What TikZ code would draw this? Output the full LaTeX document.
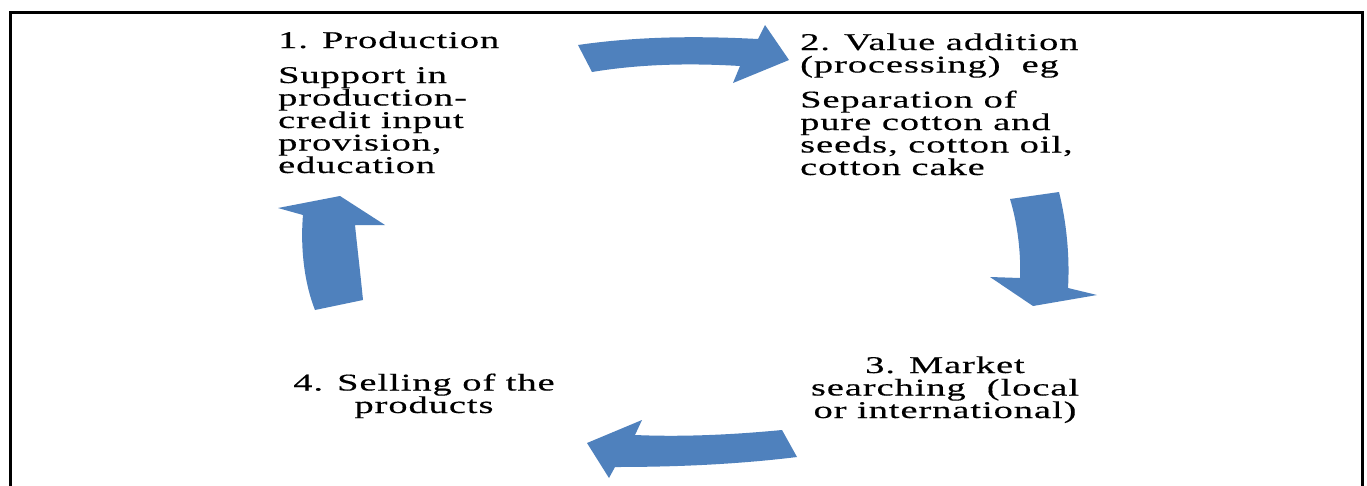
\documentclass[tikz,border=0pt]{standalone}
\usepackage{fontspec}
\setmainfont{Liberation Serif}[FakeStretch=1.6,LetterSpace=4,FakeBold=0.4]
\definecolor{arrowblue}{HTML}{4F81BD}
\tikzset{
  label text/.style={inner sep=0pt, font=\fontsize{24}{22.5}\selectfont, text=black},
  block arrow/.style={fill=arrowblue, draw=none},
  frame line/.style={draw=black, line width=3pt}
}
\begin{document}
\begin{tikzpicture}[x=1pt,y=-1pt]
\useasboundingbox (0,0) rectangle (1367,485);
\fill[white] (0,0) rectangle (1367,485);
\draw[frame line] (10.5,490) -- (10.5,12.5) -- (1362,12.5) -- (1362,490);

\node[label text, anchor=base west, align=left] (n1) at (278,173)
  {1. Production\\[12.5pt]Support in\\production-\\credit input\\provision,\\education};
\node[label text, anchor=base west, align=left] (n2) at (800,175)
  {2. Value addition\\(processing)\ \ eg\\[12.5pt]Separation of\\pure cotton and\\seeds, cotton oil,\\cotton cake};
\node[label text, anchor=base, align=center] (n3) at (945,418)
  {3. Market\\searching\ \ (local\\or international)};
\node[label text, anchor=base, align=center] (n4) at (424,413)
  {4. Selling of the\\products};

% top arrow (1 -> 2)
\path[block arrow] (578,45) .. controls (640,36) and (700,36) .. (758,39)
  -- (765,25) -- (789,60) -- (733,83) -- (740,66)
  .. controls (690,63) and (640,64) .. (592,72) -- cycle;
% right arrow (2 -> 3)
\path[block arrow] (1010,199) .. controls (1018,225) and (1021,255) .. (1020,278)
  -- (990,277) -- (1033,306) -- (1097,295) -- (1068,288)
  .. controls (1070,255) and (1066,220) .. (1059,192) -- cycle;
% bottom arrow (3 -> 4)
\path[block arrow] (782,430) .. controls (730,435) and (680,437) .. (635,435)
  -- (642,420) -- (587,443) -- (609,478) -- (615,467)
  .. controls (680,467) and (740,464) .. (797,457) -- cycle;
% left arrow (4 -> 1)
\path[block arrow] (363,300) .. controls (360,270) and (357,245) .. (355,225)
  -- (385,225) -- (340,196) -- (278,208) -- (303,215)
  .. controls (300,250) and (305,285) .. (315,310) -- cycle;
\end{tikzpicture}
\end{document}
